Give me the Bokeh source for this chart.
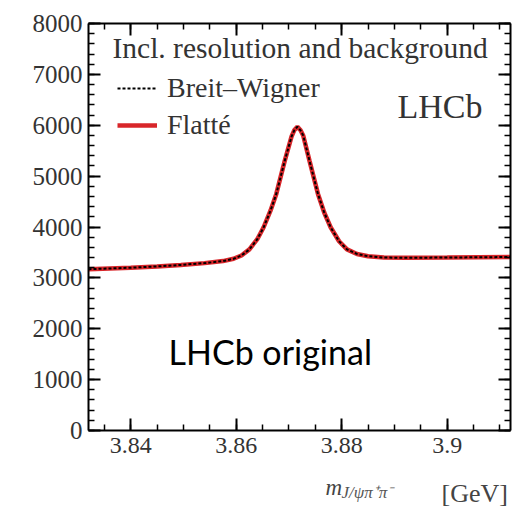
import numpy as np
from bokeh.plotting import figure
from bokeh.layouts import column
from bokeh.models import (LinearAxis, FixedTicker, Legend, LegendItem, Label, Range1d)
from bokeh.embed import file_html
from bokeh.resources import INLINE

# ---- data ----
mass_gev = [3.832, 3.840, 3.845, 3.8495, 3.854, 3.8575, 3.8595, 3.861, 3.8625, 3.864,
            3.8652, 3.8665, 3.8676, 3.8692, 3.8705, 3.8710, 3.8716, 3.8722, 3.8727,
            3.8739, 3.8755, 3.8767, 3.8779, 3.8795, 3.881, 3.8829, 3.885, 3.888,
            3.892, 3.900, 3.912]
flatte_values = [3170, 3200, 3225, 3255, 3290, 3330, 3375, 3440, 3560, 3760,
                 3995, 4320, 4650, 5300, 5780, 5900, 5970, 5900, 5800,
                 5300, 4650, 4280, 3995, 3720, 3560, 3470, 3425, 3400,
                 3395, 3400, 3410]
breit_wigner_values = list(flatte_values)

x_ticks = [3.84, 3.86, 3.88, 3.90]
x_tick_labels = ["3.84", "3.86", "3.88", "3.9"]
y_ticks = [0, 1000, 2000, 3000, 4000, 5000, 6000, 7000, 8000]
y_tick_labels = ["0", "1000", "2000", "3000", "4000", "5000", "6000", "7000", "8000"]

legend_title = "Incl. resolution and background"
bw_label = "Breit\u2013Wigner"
flatte_label = "Flatt\u00e9"
experiment_label = "LHCb"
note_label = "LHCb original"
x_label_main = "m"
x_label_sub = "J/\u03c8\u03c0\u207a\u03c0\u207b"
x_label_unit = "[GeV]"

# ---- style ----
SERIF = "Liberation Serif"
TXT = "#333333"
RED = "#d8262a"

x_lo, x_hi = 3.832, 3.912
y_lo, y_hi = 0, 8000

FW, FH = 422, 407
BL, BR, BT, BB = 88, 9, 23, 40
H2 = 45

p = figure(frame_width=FW, frame_height=FH, output_backend="svg",
           toolbar_location=None, x_range=Range1d(x_lo, x_hi),
           y_range=Range1d(y_lo, y_hi), x_axis_location=None, y_axis_location=None,
           min_border_left=BL, min_border_right=BR, min_border_top=BT,
           min_border_bottom=BB)
p.outline_line_color = None
p.xgrid.visible = False
p.ygrid.visible = False

x_minor = list(np.round(np.arange(3.83, 3.915, 0.005), 4))
y_minor = list(np.arange(0, 8001, 200))
xt = FixedTicker(ticks=x_ticks, minor_ticks=x_minor)
yt = FixedTicker(ticks=y_ticks, minor_ticks=y_minor)

def style_axis(ax, show_labels, size="25px"):
    ax.axis_line_width = 2
    ax.axis_line_color = "black"
    ax.major_tick_in = 12
    ax.major_tick_out = 0
    ax.minor_tick_in = 6
    ax.minor_tick_out = 0
    ax.major_tick_line_width = 2
    ax.minor_tick_line_width = 1.5
    ax.major_tick_line_color = "black"
    ax.minor_tick_line_color = "black"
    if show_labels:
        ax.major_label_text_font = SERIF
        ax.major_label_text_font_size = size
        ax.major_label_text_color = TXT
    else:
        ax.major_label_text_font_size = "0px"
        ax.major_label_text_color = None
        ax.major_label_standoff = 0

bottom = LinearAxis(ticker=xt, major_label_overrides=dict(zip(x_ticks, x_tick_labels)))
style_axis(bottom, True, "24px")
bottom.major_label_standoff = 7
left = LinearAxis(ticker=yt, major_label_overrides=dict(zip(y_ticks, y_tick_labels)))
style_axis(left, True, "25px")
left.major_label_standoff = 6
top = LinearAxis(ticker=xt)
style_axis(top, False)
right = LinearAxis(ticker=yt)
style_axis(right, False)
p.add_layout(bottom, "below")
p.add_layout(left, "left")
p.add_layout(top, "above")
p.add_layout(right, "right")

r_fl = p.line(mass_gev, flatte_values, line_color=RED, line_width=4.5)
r_bw = p.line(mass_gev, breit_wigner_values, line_color="black", line_width=2,
              line_dash="3 2")

legend = Legend(items=[LegendItem(label=bw_label, renderers=[r_bw]),
                       LegendItem(label=flatte_label, renderers=[r_fl])],
                location=(29, 289))
legend.label_text_font = SERIF
legend.label_text_font_size = "28px"
legend.label_text_color = TXT
legend.background_fill_alpha = 0
legend.border_line_color = None
legend.glyph_width = 40
legend.glyph_height = 32
legend.label_height = 32
legend.spacing = 5
legend.padding = 0
legend.margin = 0
legend.label_standoff = 10
p.add_layout(legend)

def lab(fig, x, y, text, font, size, color, style="normal"):
    fig.add_layout(Label(x=x, y=y, x_units="screen", y_units="screen", text=text,
                         text_font=font, text_font_size=size, text_color=color,
                         text_font_style=style, text_baseline="middle"))

lab(p, 24, 383, legend_title, SERIF, "29.5px", TXT)
lab(p, 309, 324, experiment_label, SERIF, "34px", TXT)
lab(p, 80, 79, note_label, "Lato", "34px", "black")

# strip under the plot carrying the x-axis title
p2 = figure(frame_width=FW, frame_height=H2, output_backend="svg", toolbar_location=None,
            x_range=Range1d(0, 1), y_range=Range1d(0, 1),
            x_axis_location=None, y_axis_location=None,
            min_border_left=BL, min_border_right=BR, min_border_top=0, min_border_bottom=0)
p2.outline_line_color = None
p2.xgrid.visible = False
p2.ygrid.visible = False

lab(p2, 237, 28, x_label_main, SERIF, "23px", "#444444", "italic")
lab(p2, 253, 23, x_label_sub, SERIF, "17px", "#555555", "italic")
lab(p2, 353, 22, x_label_unit, SERIF, "26px", "#444444")

layout = column(p, p2, spacing=0)
open("out.html", "w").write(file_html(layout, INLINE))
